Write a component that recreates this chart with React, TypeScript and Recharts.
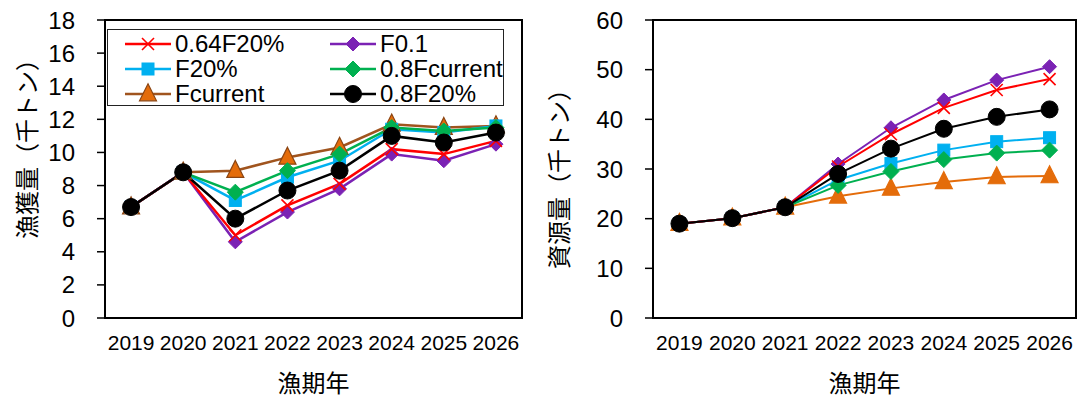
import React from 'react'
import { Label, Line, LineChart, ReferenceArea, XAxis, YAxis } from 'recharts'

const years = [2019, 2020, 2021, 2022, 2023, 2024, 2025, 2026]
const yearEdges = [2018.5, 2019.5, 2020.5, 2021.5, 2022.5, 2023.5, 2024.5, 2025.5, 2026.5]

const seriesNames = ['0.64F20%', 'F0.1', 'F20%', '0.8Fcurrent', 'Fcurrent', '0.8F20%']

// 漁獲量 (千トン)
const catch064F20 = [6.7, 8.8, 5.0, 6.8, 8.1, 10.2, 9.9, 10.7]
const catchF01 = [6.7, 8.8, 4.6, 6.4, 7.8, 9.9, 9.5, 10.5]
const catchF20 = [6.7, 8.8, 7.1, 8.5, 9.5, 11.4, 11.2, 11.6]
const catch08Fcur = [6.7, 8.8, 7.6, 8.9, 9.9, 11.5, 11.3, 11.5]
const catchFcur = [6.7, 8.8, 8.9, 9.7, 10.3, 11.7, 11.5, 11.6]
const catch08F20 = [6.7, 8.8, 6.0, 7.7, 8.9, 11.0, 10.6, 11.2]

// 資源量 (千トン)
const bio064F20 = [19.0, 20.1, 22.3, 30.5, 37.0, 42.3, 45.9, 48.1]
const bioF01 = [19.0, 20.1, 22.3, 31.0, 38.3, 43.9, 47.9, 50.6]
const bioF20 = [19.0, 20.1, 22.3, 27.8, 31.1, 33.8, 35.5, 36.3]
const bio08Fcur = [19.0, 20.1, 22.3, 26.7, 29.5, 31.9, 33.2, 33.8]
const bioFcur = [19.0, 20.1, 22.3, 24.5, 26.1, 27.4, 28.4, 28.6]
const bio08F20 = [19.0, 20.1, 22.3, 29.0, 34.1, 38.1, 40.5, 42.0]

const catchTicks = [0, 2, 4, 6, 8, 10, 12, 14, 16, 18]
const bioTicks = [0, 10, 20, 30, 40, 50, 60]

type Shape = 'x' | 'diamond' | 'square' | 'triangle' | 'circle'

type Style = { key: string; name: string; line: string; fill: string; stroke: string; shape: Shape; size: number }

const leftStyles: Style[] = [
  { key: 'a', name: seriesNames[0], line: '#ff0000', fill: '#ff0000', stroke: '#ff0000', shape: 'x', size: 12 },
  { key: 'b', name: seriesNames[1], line: '#7b22b4', fill: '#7b22b4', stroke: '#7b22b4', shape: 'diamond', size: 14 },
  { key: 'c', name: seriesNames[2], line: '#00b0f0', fill: '#00b0f0', stroke: '#00b0f0', shape: 'square', size: 12 },
  { key: 'd', name: seriesNames[3], line: '#00b050', fill: '#00b050', stroke: '#00b050', shape: 'diamond', size: 16 },
  { key: 'e', name: seriesNames[4], line: '#a0541e', fill: '#e46c0a', stroke: '#8b4513', shape: 'triangle', size: 17 },
  { key: 'f', name: seriesNames[5], line: '#000000', fill: '#000000', stroke: '#000000', shape: 'circle', size: 17 },
]

const rightStyles: Style[] = leftStyles.map((s) =>
  s.key === 'e' ? { ...s, line: '#e46c0a', stroke: '#e46c0a' } : s,
)

// draw order: black last so it sits on top
const drawOrder = ['e', 'c', 'd', 'b', 'a', 'f']

const catchData = years.map((y, i) => ({
  year: y, a: catch064F20[i], b: catchF01[i], c: catchF20[i], d: catch08Fcur[i], e: catchFcur[i], f: catch08F20[i],
}))
const bioData = years.map((y, i) => ({
  year: y, a: bio064F20[i], b: bioF01[i], c: bioF20[i], d: bio08Fcur[i], e: bioFcur[i], f: bio08F20[i],
}))

function Marker({ shape, cx, cy, size, fill, stroke }: { shape: Shape; cx: number; cy: number; size: number; fill: string; stroke: string }) {
  const h = size / 2
  if (shape === 'x')
    return (
      <g stroke={stroke} strokeWidth={1.6}>
        <line x1={cx - h} y1={cy - h} x2={cx + h} y2={cy + h} />
        <line x1={cx - h} y1={cy + h} x2={cx + h} y2={cy - h} />
      </g>
    )
  if (shape === 'diamond')
    return <polygon points={`${cx},${cy - h} ${cx + h},${cy} ${cx},${cy + h} ${cx - h},${cy}`} fill={fill} stroke={stroke} />
  if (shape === 'square') return <rect x={cx - h} y={cy - h} width={size} height={size} fill={fill} stroke={stroke} />
  if (shape === 'triangle')
    return (
      <polygon
        points={`${cx},${cy - size * 0.6} ${cx + h},${cy + size * 0.4} ${cx - h},${cy + size * 0.4}`}
        fill={fill}
        stroke={stroke}
        strokeWidth={1.2}
      />
    )
  return <circle cx={cx} cy={cy} r={h} fill={fill} stroke={stroke} />
}

const tickStyle = { fontSize: 24, fill: '#000' }
const yearStyle = { fontSize: 21, fill: '#000' }
const titleFont = '"Noto Sans CJK JP", sans-serif'

function YTitle({ x, y, text }: { x: number; y: number; text: string }) {
  return (
    <text
      x={x}
      y={y}
      transform={`rotate(-90 ${x} ${y})`}
      textAnchor="middle"
      dominantBaseline="central"
      fill="#000"
      style={{ fontSize: 24, fontFamily: titleFont }}
    >
      {text}
    </text>
  )
}

function Chart({
  data, styles, domain, ticks, yWidth, right, title, titleX, titleY,
}: {
  data: any[]; styles: Style[]; domain: [number, number]; ticks: number[]; yWidth: number; right: number
  title: string; titleX: number; titleY: number
}) {
  const lineW = styles === leftStyles ? 2.5 : 2
  return (
    <LineChart width={styles === leftStyles ? 540 : 546} height={401} data={data} margin={{ top: 20, right, left: 0, bottom: 0 }}>
      <XAxis
        xAxisId="t"
        type="number"
        dataKey="year"
        domain={[2018.5, 2026.5]}
        ticks={yearEdges}
        height={0}
        tickSize={8}
        tickFormatter={() => ''}
        axisLine={{ stroke: '#000', strokeWidth: 2 }}
        tickLine={{ stroke: '#000', strokeWidth: 1.5 }}
      />
      <XAxis
        xAxisId="l"
        type="number"
        dataKey="year"
        domain={[2018.5, 2026.5]}
        ticks={years}
        height={83}
        tickSize={0}
        tickMargin={17}
        axisLine={false}
        tickLine={false}
        tick={yearStyle}
      >
        <Label value="漁期年" position="insideBottom" offset={9} fill="#000" style={{ fontSize: 24, fontFamily: titleFont }} />
      </XAxis>
      <YAxis
        type="number"
        domain={domain}
        ticks={ticks}
        width={yWidth}
        tickSize={8}
        tickMargin={22}
        tick={tickStyle}
        interval={0}
        axisLine={{ stroke: '#000', strokeWidth: 2 }}
        tickLine={{ stroke: '#000', strokeWidth: 1.5 }}
      >
        <Label content={() => <YTitle x={titleX} y={titleY} text={title} />} />
      </YAxis>
      <ReferenceArea
        xAxisId="l"
        x1={2018.5}
        x2={2026.5}
        y1={domain[0]}
        y2={domain[1]}
        fill="none"
        stroke="#000"
        strokeWidth={2}
        fillOpacity={0}
      />
      {drawOrder.map((k) => {
        const s = styles.find((st) => st.key === k)!
        return (
          <Line
            key={k}
            xAxisId="l"
            dataKey={k}
            name={s.name}
            stroke={s.line}
            strokeWidth={lineW}
            isAnimationActive={false}
            dot={(p: any) => (
              <Marker key={`${k}-${p.index}`} shape={s.shape} cx={p.cx} cy={p.cy} size={s.size} fill={s.fill} stroke={s.stroke} />
            )}
            activeDot={false}
          />
        )
      })}
    </LineChart>
  )
}

function LegendBox() {
  const rows = [
    [leftStyles[0], leftStyles[1]],
    [leftStyles[2], leftStyles[3]],
    [leftStyles[4], leftStyles[5]],
  ]
  return (
    <div
      style={{
        position: 'absolute', left: 107, top: 29, width: 397, height: 77, border: '1.5px solid #222',
        background: '#fff', boxSizing: 'border-box',
      }}
    >
      {rows.map((r, i) =>
        r.map((s, j) => (
          <div
            key={s.key}
            style={{ display: 'flex', alignItems: 'center', position: 'absolute', left: j === 0 ? 16 : 221, top: 1 + i * 25, height: 25 }}
          >
            <svg width={48} height={24} style={{ display: 'block' }}>
              <line x1={1} y1={12} x2={47} y2={12} stroke={s.line} strokeWidth={2.5} />
              <Marker shape={s.shape} cx={24} cy={12} size={s.size} fill={s.fill} stroke={s.stroke} />
            </svg>
            <span style={{ fontSize: 24, marginLeft: 3, lineHeight: '25px' }}>{s.name}</span>
          </div>
        )),
      )}
    </div>
  )
}

export default function App() {
  return (
    <div
      style={{
        position: 'absolute', left: 0, top: 0, width: 1086, height: 401, background: '#fff',
        fontFamily: '"Liberation Sans", Arial, sans-serif', color: '#000',
      }}
    >
      <div style={{ position: 'absolute', left: 0, top: 0 }}>
        <Chart
          data={catchData} styles={leftStyles} domain={[0, 18]} ticks={catchTicks} yWidth={105} right={18}
          title="漁獲量（千トン）" titleX={25} titleY={143}
        />
      </div>
      <LegendBox />
      <div style={{ position: 'absolute', left: 540, top: 0 }}>
        <Chart
          data={bioData} styles={rightStyles} domain={[0, 60]} ticks={bioTicks} yWidth={113} right={10}
          title="資源量（千トン）" titleX={17} titleY={173}
        />
      </div>
    </div>
  )
}
